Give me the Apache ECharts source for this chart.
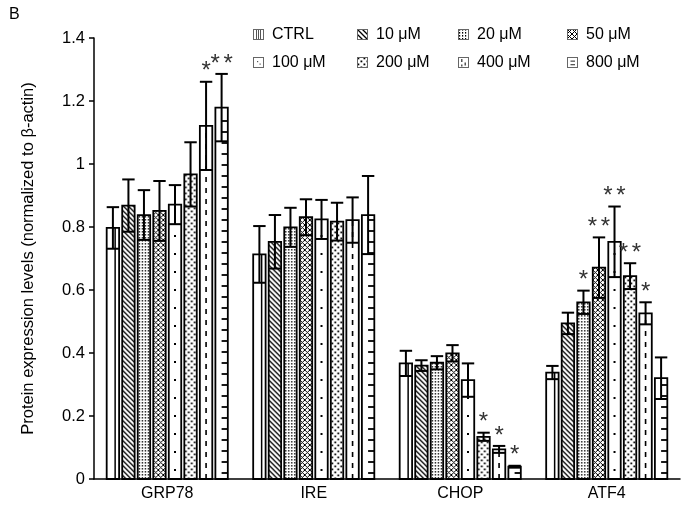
<!DOCTYPE html>
<html>
<head>
<meta charset="utf-8">
<script src="https://cdn.jsdelivr.net/npm/echarts@6/dist/echarts.min.js"></script>
<style>
  html, body { margin: 0; padding: 0; background: #fff; }
  #chart { width: 688px; height: 508px; }
</style>
</head>
<body>
<div id="chart"></div>
<script>
const categories = ['GRP78', 'IRE', 'CHOP', 'ATF4']
const doses = ['CTRL', '10 μM', '20 μM', '50 μM', '100 μM', '200 μM', '400 μM', '800 μM']

// means and errors, one array per protein, in dose order
const grp78 = [0.797, 0.868, 0.838, 0.851, 0.871, 0.967, 1.121, 1.179]
const grp78Err = [0.066, 0.083, 0.079, 0.095, 0.062, 0.102, 0.140, 0.107]
const ire = [0.713, 0.753, 0.799, 0.831, 0.824, 0.817, 0.822, 0.838]
const ireErr = [0.090, 0.085, 0.062, 0.057, 0.062, 0.060, 0.072, 0.124]
const chop = [0.367, 0.360, 0.369, 0.399, 0.314, 0.134, 0.094, 0.039]
const chopErr = [0.040, 0.017, 0.021, 0.026, 0.053, 0.013, 0.011, 0.003]
const atf4 = [0.338, 0.494, 0.561, 0.671, 0.753, 0.644, 0.526, 0.320]
const atf4Err = [0.021, 0.034, 0.037, 0.096, 0.112, 0.041, 0.035, 0.066]

// significance marks
const grp78Stars = ['', '', '', '', '', '', '*', '**']
const ireStars = ['', '', '', '', '', '', '', '']
const chopStars = ['', '', '', '', '', '*', '*', '*']
const atf4Stars = ['', '', '*', '**', '**', '**', '*', '']

const yTicks = ['0', '0.2', '0.4', '0.6', '0.8', '1', '1.2', '1.4']

const means = [grp78, ire, chop, atf4]
const errs = [grp78Err, ireErr, chopErr, atf4Err]
const stars = [grp78Stars, ireStars, chopStars, atf4Stars]

const FONT = '"Liberation Sans", Arial, sans-serif'

// small repeating textures
function texture(kind) {
  const c = document.createElement('canvas')
  const g = c.getContext('2d')
  g.strokeStyle = '#000'
  g.fillStyle = '#000'
  if (kind === 'diag') {
    c.width = 5; c.height = 5
    g.lineWidth = 1.3
    g.beginPath()
    g.moveTo(-1, -1); g.lineTo(6, 6)
    g.moveTo(-1, 4); g.lineTo(1, 6)
    g.moveTo(4, -1); g.lineTo(6, 1)
    g.stroke()
  } else if (kind === 'fine') {
    c.width = 3; c.height = 3
    g.fillRect(1, 0, 1.2, 1.6)
  } else if (kind === 'cross') {
    c.width = 5; c.height = 5
    g.lineWidth = 1
    g.beginPath()
    g.moveTo(-1, -1); g.lineTo(6, 6)
    g.moveTo(6, -1); g.lineTo(-1, 6)
    g.stroke()
  } else if (kind === 'dots') {
    c.width = 6; c.height = 6
    g.fillRect(0.5, 0.5, 1.8, 1.8)
    g.fillRect(3.5, 3.5, 1.8, 1.8)
  }
  return c
}

const textures = {
  1: texture('diag'),
  2: texture('fine'),
  3: texture('cross'),
  5: texture('dots')
}

// legend icons drawn as small boxes
function legendIcon(i) {
  const c = document.createElement('canvas')
  c.width = 11; c.height = 11
  const g = c.getContext('2d')
  g.fillStyle = '#fff'
  g.fillRect(0, 0, 11, 11)
  if (textures[i]) {
    g.fillStyle = g.createPattern(textures[i], 'repeat')
    g.fillRect(0, 0, 11, 11)
  }
  g.strokeStyle = '#555'
  g.fillStyle = '#555'
  g.lineWidth = 1
  if (i === 0) {
    g.beginPath()
    for (const x of [3.5, 5.5, 7.5]) { g.moveTo(x, 0); g.lineTo(x, 11) }
    g.stroke()
  } else if (i === 4) {
    g.fillRect(4, 4, 1.2, 1.2); g.fillRect(6.5, 6.5, 1.2, 1.2)
  } else if (i === 6) {
    g.fillRect(3, 2, 1.5, 3); g.fillRect(6.5, 5.5, 1.5, 3); g.fillRect(3, 7.5, 1.5, 2)
  } else if (i === 7) {
    g.fillRect(3.5, 3.5, 4.5, 1.3); g.fillRect(3.5, 7, 4.5, 1.3)
  }
  g.strokeStyle = '#666'
  g.strokeRect(0.5, 0.5, 10, 10)
  return 'image://' + c.toDataURL()
}

function renderDose(i) {
  return function (params, api) {
    const k = api.value(0)
    const mean = api.value(1)
    const err = api.value(2)
    const base = api.coord([k, 0])
    const top = api.coord([k, mean])
    const hi = api.coord([k, mean + err])[1]
    const lo = api.coord([k, mean - err])[1]
    const W = api.size([1, 0])[0]
    const pitch = W * 0.106
    const bw = pitch * 0.8
    const cx = base[0] + (i - 3.5) * pitch
    const x0 = cx - bw / 2
    const y0 = top[1]
    const h = base[1] - y0

    const kids = []
    kids.push({
      type: 'rect',
      shape: { x: x0, y: y0, width: bw, height: h },
      style: {
        fill: textures[i] ? { image: textures[i], repeat: 'repeat', x: x0, y: 0 } : '#fff',
        stroke: '#000',
        lineWidth: 1.8
      }
    })

    if (i === 0) {
      kids.push({ type: 'line', shape: { x1: x0 + bw * 0.68, y1: y0, x2: x0 + bw * 0.68, y2: base[1] }, style: { stroke: '#000', lineWidth: 1.5 } })
    } else if (i === 4) {
      for (let y = base[1] - 9; y > y0 + 3; y -= 18) {
        kids.push({ type: 'rect', shape: { x: cx - 1, y: y - 1, width: 2, height: 2 }, style: { fill: '#000' } })
      }
    } else if (i === 6) {
      kids.push({ type: 'line', shape: { x1: cx, y1: base[1], x2: cx, y2: y0 }, style: { stroke: '#000', lineWidth: 1.6, lineDash: [5, 6] } })
    } else if (i === 7) {
      for (let y = base[1] - 6; y > y0 + 3; y -= 11) {
        kids.push({ type: 'line', shape: { x1: cx, y1: y, x2: x0 + bw, y2: y }, style: { stroke: '#000', lineWidth: 1.8 } })
      }
    }

    // error bar: whisker with caps at both ends
    const cap = bw / 2
    const eb = { stroke: '#000', lineWidth: 2 }
    kids.push({ type: 'line', shape: { x1: cx, y1: hi, x2: cx, y2: lo }, style: eb })
    kids.push({ type: 'line', shape: { x1: cx - cap, y1: hi, x2: cx + cap, y2: hi }, style: eb })
    kids.push({ type: 'line', shape: { x1: cx - cap, y1: lo, x2: cx + cap, y2: lo }, style: eb })

    const s = stars[k][i]
    for (let j = 0; j < s.length; j++) {
      kids.push({
        type: 'text',
        style: {
          text: '*',
          x: cx + (j - (s.length - 1) / 2) * 13,
          y: hi - 10,
          align: 'center',
          verticalAlign: 'middle',
          font: '24px ' + FONT,
          fill: '#333'
        }
      })
    }
    return { type: 'group', children: kids }
  }
}

const series = doses.map((name, i) => ({
  name,
  type: 'custom',
  renderItem: renderDose(i),
  encode: { x: 0, y: 1 },
  data: categories.map((c, k) => [k, means[k][i], errs[k][i]]),
  z: 2
}))

const legendCols = [253, 357, 458, 567]
const legends = legendCols.map((left, col) => ({
  orient: 'vertical',
  left,
  top: 26.5,
  padding: 0,
  itemWidth: 11,
  itemHeight: 11,
  itemGap: 12,
  selectedMode: false,
  textStyle: { fontFamily: FONT, fontSize: 16, lineHeight: 16, color: '#000', padding: [0, 0, 0, 3] },
  data: [doses[col], doses[col + 4]].map((d) => ({ name: d, icon: legendIcon(doses.indexOf(d)) }))
}))

const chart = echarts.init(document.getElementById('chart'), null, { renderer: 'canvas' })
chart.setOption({
  animation: false,
  backgroundColor: '#fff',
  title: {
    text: 'B',
    left: 4,
    top: 2,
    textStyle: { fontFamily: FONT, fontSize: 16, fontWeight: 'normal', color: '#000' }
  },
  legend: legends,
  grid: { left: 94, right: 8, top: 38, bottom: 29 },
  xAxis: {
    type: 'category',
    data: categories,
    axisLine: { lineStyle: { color: '#000', width: 1.5 } },
    axisTick: { inside: true, length: 4, lineStyle: { color: '#000', width: 1.5 } },
    axisLabel: { fontFamily: FONT, fontSize: 16, color: '#000', margin: 7 }
  },
  yAxis: {
    type: 'value',
    min: 0,
    max: 1.4,
    interval: 0.2,
    name: 'Protein expression levels (normalized to β-actin)',
    nameLocation: 'middle',
    nameGap: 57,
    nameTextStyle: { fontFamily: FONT, fontSize: 16.5, color: '#000' },
    axisLine: { show: true, lineStyle: { color: '#000', width: 1.5 } },
    axisTick: { show: true, length: 5, lineStyle: { color: '#000', width: 1.5 } },
    axisLabel: {
      fontFamily: FONT, fontSize: 16.5, color: '#000', margin: 9,
      formatter: (v) => yTicks[Math.round(v / 0.2)]
    },
    splitLine: { show: false }
  },
  series
})
</script>
</body>
</html>
